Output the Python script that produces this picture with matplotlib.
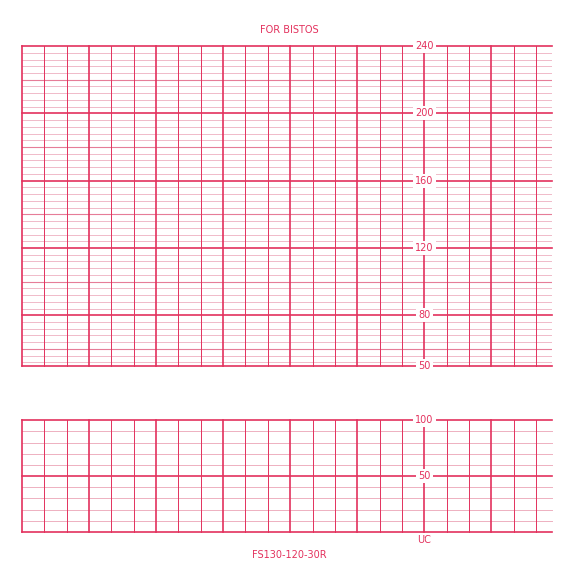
import numpy as np
import matplotlib
matplotlib.use("Agg")
import matplotlib.pyplot as plt

fhr_labels = [240, 200, 160, 120, 80, 50]
uc_labels = [100, 50]
title_top = "FOR BISTOS"
title_bottom = "FS130-120-30R"
minutes = 7.9
red = "#e3315d"
pink = "#eeb0c0"

fig = plt.figure(figsize=(5.76, 5.76), dpi=100)
ax1 = fig.add_axes([0.038, 0.365, 0.920, 0.555])
ax2 = fig.add_axes([0.038, 0.0764, 0.920, 0.194])

def vgrid(ax):
    for i in range(int(minutes * 3) + 1):
        x = i / 3
        major = i % 3 == 0
        ax.axvline(x, color=red, lw=1.2 if major else 0.7, zorder=2, clip_on=False)

# top panel
ax1.set_xlim(0, minutes); ax1.set_ylim(50, 240)
for y in np.arange(52, 241, 4):
    if y % 40 == 0 or y == 80:
        ax1.axhline(y, color=red, lw=1.2, zorder=1, clip_on=False)
    elif y % 20 == 0:
        ax1.axhline(y, color="#e67d98", lw=0.8, zorder=1)
    else:
        ax1.axhline(y, color=pink, lw=0.6, zorder=1)
ax1.axhline(50, color=red, lw=1.2, clip_on=False)
vgrid(ax1)
for v in fhr_labels:
    ax1.text(6, v, str(v), ha="center", va="center", color=red, fontsize=7,
             bbox=dict(fc="white", ec="none", pad=1.5), zorder=5)

# bottom panel
ax2.set_xlim(0, minutes); ax2.set_ylim(0, 100)
for y in range(0, 101, 10):
    ax2.axhline(y, color=red if y % 50 == 0 else pink, lw=1.2 if y % 50 == 0 else 0.7,
                zorder=1, clip_on=False)
vgrid(ax2)
for v in uc_labels:
    ax2.text(6, v, str(v), ha="center", va="center", color=red, fontsize=7,
             bbox=dict(fc="white", ec="none", pad=1.5), zorder=5)
ax2.text(6, -3, "UC", ha="center", va="top", color=red, fontsize=7)

for ax in (ax1, ax2):
    ax.set_xticks([]); ax.set_yticks([])
    for s in ax.spines.values():
        s.set_visible(False)

fig.text(0.503, 0.948, title_top, ha="center", va="center", color=red, fontsize=7)
fig.text(0.503, 0.036, title_bottom, ha="center", va="center", color=red, fontsize=7)
fig.savefig("out.png", dpi=100)
